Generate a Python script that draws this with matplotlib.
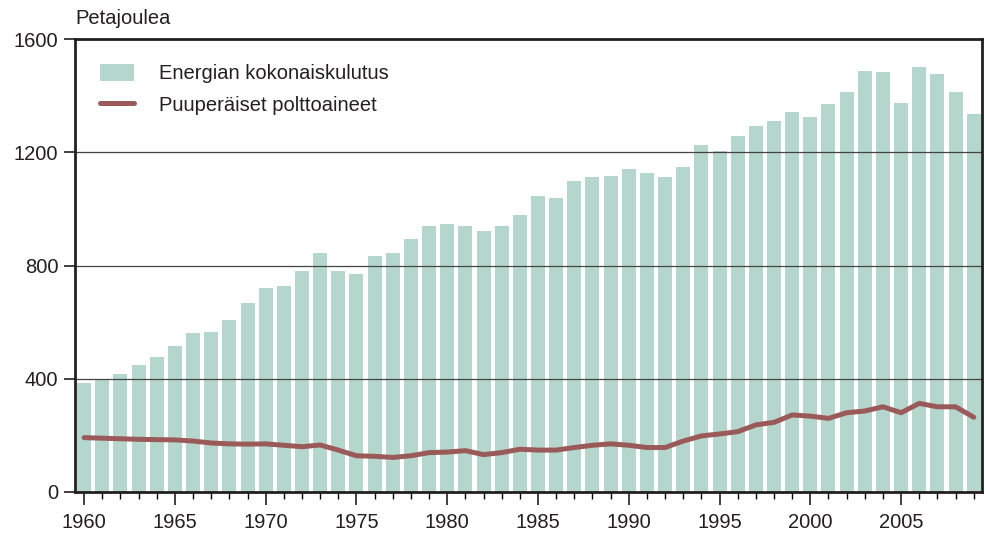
import matplotlib
matplotlib.use('Agg')
import matplotlib.pyplot as plt
from matplotlib.ticker import MultipleLocator

# Fontti: kapea groteski (Liberation Sans lähin saatavilla)
plt.rcParams['font.family'] = ['Liberation Sans Narrow', 'Liberation Sans', 'DejaVu Sans']

# Data
years = list(range(1960, 2010))
kokonais = [385, 398, 417, 449, 477, 516, 562, 565, 607, 668,
            720, 728, 781, 844, 781, 770, 834, 844, 894, 940,
            947, 940, 922, 940, 978, 1046, 1039, 1099, 1113, 1116,
            1141, 1127, 1113, 1148, 1226, 1205, 1258, 1293, 1311, 1342,
            1325, 1370, 1413, 1487, 1484, 1374, 1501, 1477, 1413, 1335]
puu = [192, 190, 188, 186, 185, 184, 180, 173, 170, 169,
       170, 165, 160, 166, 148, 128, 126, 122, 128, 139,
       141, 146, 132, 139, 151, 148, 148, 157, 165, 170,
       165, 157, 157, 180, 198, 205, 213, 237, 246, 272,
       268, 260, 280, 286, 301, 280, 313, 301, 301, 264]

bar_color = '#b5d6cc'
line_color = '#9b5a5a'
dark = '#231f20'
fs = 14.5

fig = plt.figure(figsize=(9.9, 5.35), dpi=100)
ax = fig.add_axes([0.0758, 0.0804, 0.916, 0.8466])

bars = ax.bar(years, kokonais, width=0.77, color=bar_color, zorder=1,
              label='Energian kokonaiskulutus')
for y in [400, 800, 1200]:
    ax.axhline(y, color='#444444', lw=0.9, zorder=2)
line, = ax.plot(years, puu, color=line_color, lw=3.6, zorder=3,
                solid_capstyle='round', label='Puuperäiset polttoaineet')

ax.set_xlim(1959.5, 2009.45)
ax.set_ylim(0, 1600)
ax.yaxis.set_major_locator(MultipleLocator(400))
ax.xaxis.set_major_locator(MultipleLocator(5))
ax.xaxis.set_minor_locator(MultipleLocator(1))

for s in ax.spines.values():
    s.set_linewidth(2)
    s.set_color(dark)

ax.tick_params(axis='both', labelsize=fs, colors=dark, width=1.2)
ax.tick_params(axis='x', which='major', length=9, pad=6)
ax.tick_params(axis='x', which='minor', length=5, width=1.0)
ax.tick_params(axis='y', length=8, pad=4)

fig.text(0.0758, 0.948, 'Petajoulea', fontsize=fs, color=dark,
         ha='left', va='bottom')

leg = ax.legend([bars, line], ['Energian kokonaiskulutus', 'Puuperäiset polttoaineet'],
                loc='upper left', bbox_to_anchor=(0.007, 0.985), frameon=False,
                fontsize=fs, handlelength=1.7, handleheight=0.9,
                handletextpad=1.25, labelspacing=0.6)
for t in leg.get_texts():
    t.set_color(dark)

fig.savefig('out.png', dpi=100)
